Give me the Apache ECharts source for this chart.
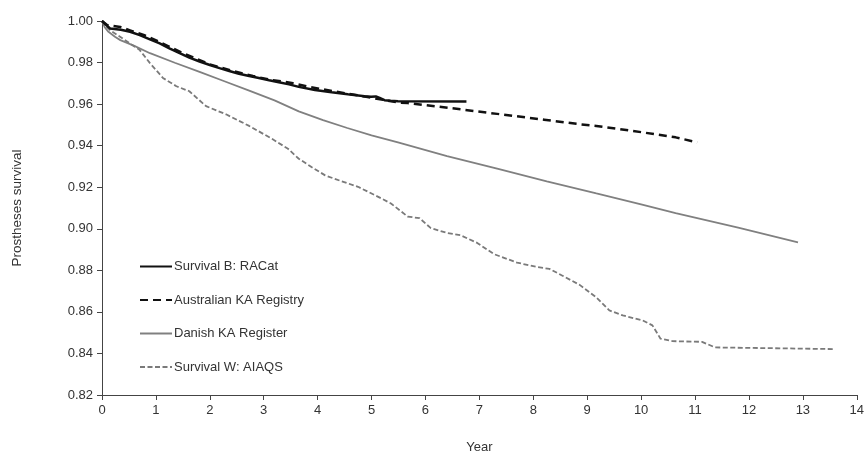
<!DOCTYPE html>
<html>
<head>
<meta charset="utf-8">
<script src="https://cdn.jsdelivr.net/npm/echarts@6/dist/echarts.min.js"></script>
<style>
html,body{margin:0;padding:0;background:#fff;}
#chart{width:867px;height:459px;}
</style>
</head>
<body>
<div id="chart"></div>
<script>
// series: [year, survival]
var racat = [[0,1.0],[0.08,0.998],[0.15,0.9964],[0.35,0.9958],[0.52,0.9948],[0.7,0.9932],[0.9,0.991],[1.07,0.9892],[1.25,0.9868],[1.44,0.9845],[1.62,0.9824],[1.81,0.9805],[2.0,0.9788],[2.18,0.9773],[2.36,0.9759],[2.54,0.9746],[2.73,0.9735],[2.91,0.9726],[3.1,0.9715],[3.28,0.9705],[3.47,0.9695],[3.65,0.9683],[3.95,0.9668],[4.26,0.9657],[4.56,0.9647],[4.87,0.9638],[4.99,0.9635],[5.08,0.9637],[5.15,0.963],[5.24,0.9619],[5.35,0.9616],[5.49,0.9614],[6.76,0.9612]];
var australian = [[0,1.0],[0.1,0.998],[0.34,0.9971],[0.52,0.9955],[0.8,0.993],[1.1,0.9895],[1.5,0.9845],[1.99,0.9792],[2.42,0.976],[2.8,0.9735],[3.1,0.9718],[3.52,0.9702],[3.8,0.9685],[4.3,0.9662],[4.9,0.9635],[5.49,0.9608],[5.67,0.9605],[6.5,0.958],[7.33,0.9553],[8.2,0.9525],[8.8,0.9505],[9.17,0.9495],[9.6,0.948],[10.03,0.9464],[10.64,0.944],[11.04,0.9416]];
var danish = [[0,1.0],[0.05,0.997],[0.12,0.9948],[0.24,0.9924],[0.34,0.9908],[0.6,0.988],[0.89,0.9845],[1.35,0.9799],[1.81,0.9755],[2.27,0.971],[2.73,0.9665],[3.2,0.9618],[3.65,0.9565],[4.1,0.9523],[4.55,0.9485],[5.0,0.945],[5.49,0.9416],[6.4,0.935],[7.33,0.9289],[8.25,0.9228],[9.17,0.917],[10.0,0.9118],[10.64,0.9075],[11.8,0.9005],[12.91,0.8935]];
var aiaqs = [[0,1.0],[0.05,0.998],[0.15,0.9956],[0.3,0.993],[0.52,0.9892],[0.7,0.986],[0.89,0.9797],[1.13,0.9726],[1.38,0.9686],[1.62,0.9662],[1.93,0.959],[2.3,0.9551],[2.73,0.9495],[3.16,0.9432],[3.45,0.9385],[3.65,0.9337],[3.9,0.9295],[4.14,0.9257],[4.44,0.9229],[4.75,0.9202],[5.06,0.9162],[5.36,0.9122],[5.67,0.9059],[5.89,0.9051],[6.1,0.9003],[6.4,0.898],[6.65,0.8969],[6.96,0.8932],[7.27,0.8878],[7.7,0.8837],[8.07,0.8816],[8.3,0.8807],[8.55,0.8773],[8.86,0.873],[9.17,0.867],[9.41,0.8607],[9.66,0.8583],[10.03,0.8559],[10.21,0.8535],[10.36,0.8471],[10.58,0.8459],[11.13,0.8456],[11.37,0.8429],[13.58,0.8421]];

var seriesNames = ['Survival B: RACat', 'Australian KA Registry', 'Danish KA Register', 'Survival W: AIAQS'];

var myChart = echarts.init(document.getElementById('chart'));
var fontFam = '"Liberation Sans", Arial, sans-serif';
var option = {
    animation: false,
    textStyle: { fontFamily: fontFam },
    grid: { left: 102, right: 4, top: 21, bottom: 61 },
    legend: {
        orient: 'vertical',
        left: 134,
        top: 255,
        itemWidth: 32,
        itemHeight: 14,
        itemGap: 20.5,
        itemStyle: { opacity: 0 },
        textStyle: { fontFamily: fontFam, fontSize: 13, color: '#333', padding: [0,0,0,-3] },
        data: seriesNames
    },
    xAxis: {
        type: 'value',
        min: 0, max: 14, interval: 1,
        name: 'Year',
        nameLocation: 'middle',
        nameGap: 46,
        nameTextStyle: { fontSize: 13, color: '#333', fontFamily: fontFam },
        axisLine: { lineStyle: { color: '#444', width: 1 } },
        axisTick: { show: true, length: 5, lineStyle: { color: '#444' } },
        axisLabel: { fontSize: 13, color: '#333', margin: 9 },
        splitLine: { show: false }
    },
    yAxis: {
        type: 'value',
        min: 0.82, max: 1.0, interval: 0.02,
        name: 'Prostheses survival',
        nameLocation: 'middle',
        nameGap: 78,
        nameTextStyle: { fontSize: 13.5, color: '#333', fontFamily: fontFam },
        axisLine: { show: true, lineStyle: { color: '#444', width: 1 } },
        axisTick: { show: true, length: 5, lineStyle: { color: '#444' } },
        axisLabel: { fontSize: 13, color: '#333', margin: 9, formatter: function (v) { return v.toFixed(2); } },
        splitLine: { show: false }
    },
    series: [
        { name: seriesNames[0], type: 'line', data: racat, symbol: 'none', z: 5,
          lineStyle: { color: '#111', width: 2.5 }, itemStyle: { color: '#111' } },
        { name: seriesNames[1], type: 'line', data: australian, symbol: 'none', z: 4,
          lineStyle: { color: '#111', width: 2.5, type: [8, 5] }, itemStyle: { color: '#111' } },
        { name: seriesNames[2], type: 'line', data: danish, symbol: 'none', z: 3,
          lineStyle: { color: '#808080', width: 1.8 }, itemStyle: { color: '#808080' } },
        { name: seriesNames[3], type: 'line', data: aiaqs, symbol: 'none', z: 3,
          lineStyle: { color: '#7a7a7a', width: 1.8, type: [5, 2.5] }, itemStyle: { color: '#7a7a7a' } }
    ]
};
myChart.setOption(option);
</script>
</body>
</html>
